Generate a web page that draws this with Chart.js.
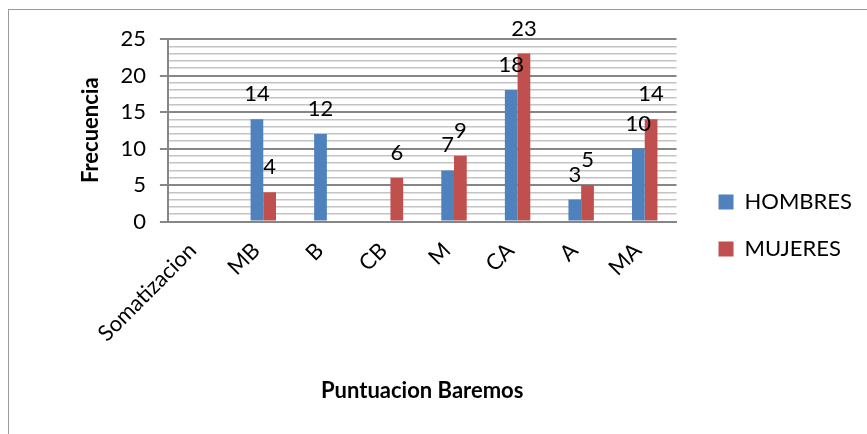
<!DOCTYPE html>
<html>
<head>
<meta charset="utf-8">
<script src="https://cdn.jsdelivr.net/npm/chart.js@4.4.1/dist/chart.umd.min.js"></script>
<style>
  html, body { margin: 0; padding: 0; background: #fff; }
  #wrap { position: relative; width: 867px; height: 434px; overflow: hidden; }
  #frame { position: absolute; left: 8px; top: 9px; width: 900px; height: 500px;
           border: 1.5px solid #9a9a9a; pointer-events: none; }
</style>
</head>
<body>
<div id="wrap">
  <canvas id="chart" width="867" height="434"></canvas>
  <div id="frame"></div>
</div>
<script>
const categories = ['Somatizacion', 'MB', 'B', 'CB', 'M', 'CA', 'A', 'MA'];
const hombres = [null, 14, 12, null, 7, 18, 3, 10];
const mujeres = [null, 4, null, 6, 9, 23, 5, 14];
const yTicks = [0, 5, 10, 15, 20, 25];

const FONT = 'Lato, "Open Sans", sans-serif';
const SIZE = 22;

// value labels above each bar, like the Excel "outside end" labels
const barLabels = {
    id: 'barLabels',
    afterDatasetsDraw(chart) {
        const ctx = chart.ctx;
        ctx.save();
        ctx.font = SIZE + 'px ' + FONT;
        ctx.fillStyle = '#000';
        ctx.textAlign = 'center';
        ctx.textBaseline = 'alphabetic';
        chart.data.datasets.forEach((ds, i) => {
            chart.getDatasetMeta(i).data.forEach((bar, j) => {
                if (ds.data[j] == null) return;
                ctx.fillText(ds.data[j], bar.x, bar.y - 18);
            });
        });
        ctx.restore();
    }
};

// leave a gap between the plot and the legend
const legendShift = {
    id: 'legendShift',
    afterLayout(chart) {
        const lg = chart.legend;
        const w = lg.right - lg.left;
        lg.left = chart.chartArea.right + 17;
        lg.right = lg.left + w;
        lg.top += 4;
        lg.bottom += 4;
    }
};

new Chart(document.getElementById('chart').getContext('2d'), {
    type: 'bar',
    data: {
        labels: categories,
        datasets: [{
            label: 'HOMBRES',
            data: hombres,
            backgroundColor: '#4F81BD',
            categoryPercentage: 0.4,
            barPercentage: 1.0
        }, {
            label: 'MUJERES',
            data: mujeres,
            backgroundColor: '#C0504D',
            categoryPercentage: 0.4,
            barPercentage: 1.0
        }]
    },
    options: {
        responsive: false,
        animation: false,
        layout: { padding: { left: 78, top: 39, right: 22, bottom: 30 } },
        plugins: {
            legend: {
                position: 'right',
                labels: {
                    boxWidth: 15,
                    boxHeight: 15,
                    padding: 25,
                    color: '#000',
                    font: { family: FONT, size: SIZE }
                }
            },
            tooltip: { enabled: false }
        },
        scales: {
            x: {
                grid: { display: false },
                border: { display: true, color: '#868686', width: 2 },
                ticks: {
                    color: '#000',
                    font: { family: FONT, size: SIZE },
                    minRotation: 45,
                    maxRotation: 45,
                    padding: 8,
                    labelOffset: -7
                },
                title: {
                    display: true,
                    text: 'Puntuacion Baremos',
                    color: '#000',
                    font: { family: FONT, size: SIZE, weight: 'bold' },
                    padding: { top: 26, bottom: 0 }
                }
            },
            y: {
                min: 0,
                max: 25,
                grid: {
                    color: c => c.tick && c.tick.value % 5 === 0 ? '#868686' : '#c4c4c4',
                    lineWidth: c => c.tick && c.tick.value % 5 === 0 ? 2 : 1.5,
                    tickColor: c => c.tick && c.tick.value % 5 === 0 ? '#868686' : 'rgba(0,0,0,0)',
                    tickLength: 8
                },
                border: { display: true, color: '#868686', width: 2 },
                ticks: {
                    stepSize: 1,
                    autoSkip: false,
                    color: '#000',
                    padding: 14,
                    font: { family: FONT, size: SIZE },
                    callback: v => yTicks.includes(v) ? v : ''
                },
                title: {
                    display: true,
                    text: 'Frecuencia',
                    color: '#000',
                    font: { family: FONT, size: SIZE, weight: 'bold' },
                    padding: { top: 0, bottom: 2 }
                }
            }
        }
    },
    plugins: [barLabels, legendShift]
});
</script>
</body>
</html>
